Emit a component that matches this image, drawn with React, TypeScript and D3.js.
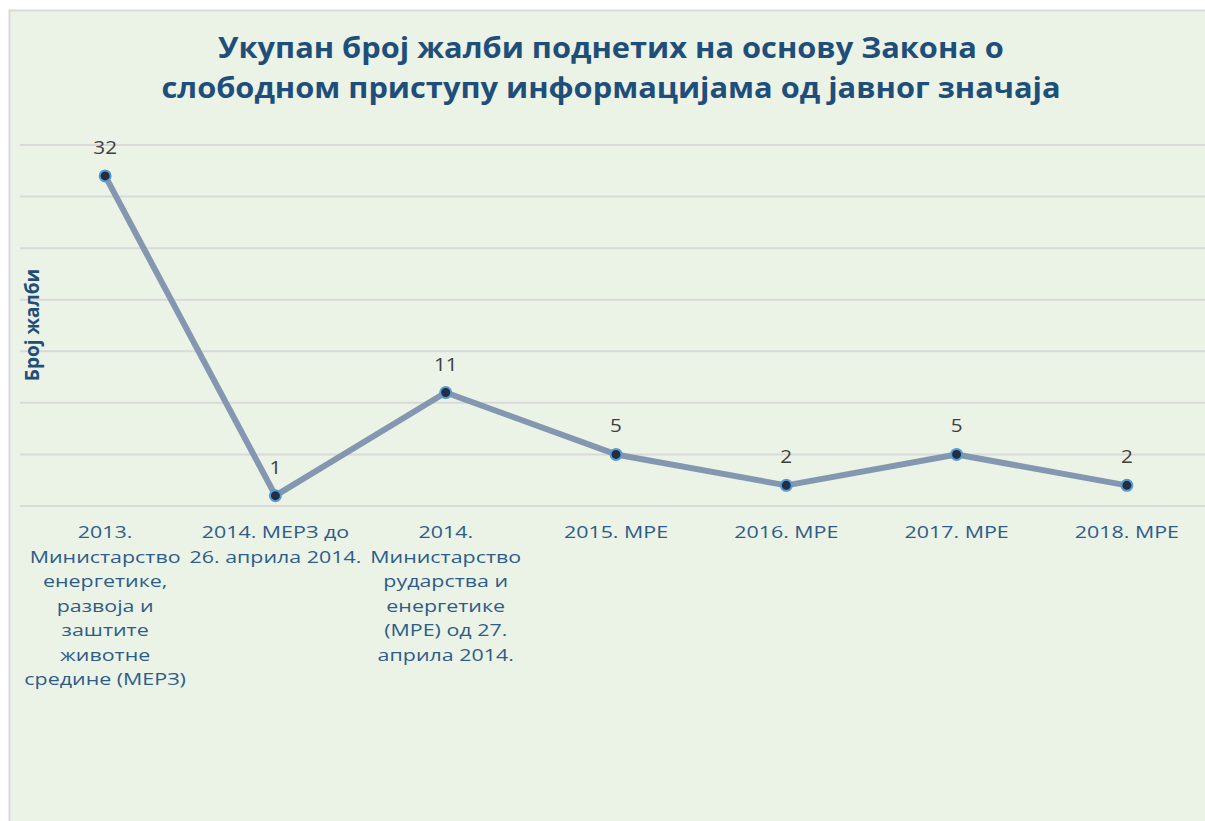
import React from "react";
import * as d3 from "d3";

const categories: string[][] = [
  ["2013.", "Министарство", "енергетике,", "развоја и", "заштите", "животне", "средине (МЕРЗ)"],
  ["2014. МЕРЗ до", "26. априла 2014."],
  ["2014.", "Министарство", "рударства и", "енергетике", "(МРЕ) од 27.", "априла 2014."],
  ["2015. МРЕ"],
  ["2016. МРЕ"],
  ["2017. МРЕ"],
  ["2018. МРЕ"],
];
const values: number[] = [32, 1, 11, 5, 2, 5, 2];
const yTicks: number[] = [0, 5, 10, 15, 20, 25, 30, 35];
const titleLines: string[] = [
  "Укупан број жалби поднетих на основу Закона о",
  "слободном приступу информацијама од јавног значаја",
];
const yAxisTitle = "Број жалби";

const W = 1205;
const H = 821;

export default function App() {
  const x = d3
    .scaleBand<number>()
    .domain(values.map((_, i) => i))
    .range([20, 1212])
    .padding(0);
  const y = d3.scaleLinear().domain([0, 35]).range([506, 145]);
  const cx = (i: number) => (x(i) as number) + x.bandwidth() / 2;
  const line = d3
    .line<number>()
    .x((_, i) => cx(i))
    .y((d) => y(d));

  const titleColor = "#1F4E79";
  const labelColor = "#2E5C8A";
  const font = "'Open Sans', sans-serif";

  return (
    <svg
      width={W}
      height={H}
      style={{ position: "absolute", left: 0, top: 0, background: "#fff" }}
    >
      <rect x={9.5} y={10.5} width={W + 10} height={H} fill="#EBF3E7" stroke="#D9D9D9" strokeWidth={2} />
      {yTicks.map((t) => (
        <line key={t} x1={20} x2={W} y1={y(t)} y2={y(t)} stroke="#D9D9D9" strokeWidth={2} />
      ))}
      <g fontFamily={font} fontWeight={700} fontSize={28} fill={titleColor} textAnchor="middle">
        {titleLines.map((t, i) => (
          <g key={i} transform={`translate(611,${58 + i * 40}) scale(1.1,1)`}>
            <text x={0} y={0}>{t}</text>
          </g>
        ))}
      </g>
      <text
        transform={`translate(39,325) rotate(-90)`}
        textAnchor="middle"
        fontFamily={font}
        fontWeight={700}
        fontSize={19}
        fill={titleColor}
      >
        {yAxisTitle}
      </text>
      <path d={line(values) || ""} fill="none" stroke="#8497B0" strokeWidth={6} strokeLinejoin="round" />
      {values.map((v, i) => (
        <g key={i}>
          <circle cx={cx(i)} cy={y(v)} r={5.5} fill="#222E44" stroke="#5B9BD5" strokeWidth={2} />
          <g transform={`translate(${cx(i)},${y(v) - 22}) scale(1.15,1)`}>
            <text x={0} y={0} textAnchor="middle" fontFamily={font} fontSize={18} fill="#404040">
              {v}
            </text>
          </g>
        </g>
      ))}
      <g fontFamily={font} fontSize={17} fill={labelColor} textAnchor="middle">
        {categories.map((lines, i) =>
          lines.map((l, j) => (
            <g key={i + "-" + j} transform={`translate(${cx(i)},${538 + j * 24.5}) scale(1.26,1)`}>
              <text x={0} y={0}>{l}</text>
            </g>
          ))
        )}
      </g>
    </svg>
  );
}
